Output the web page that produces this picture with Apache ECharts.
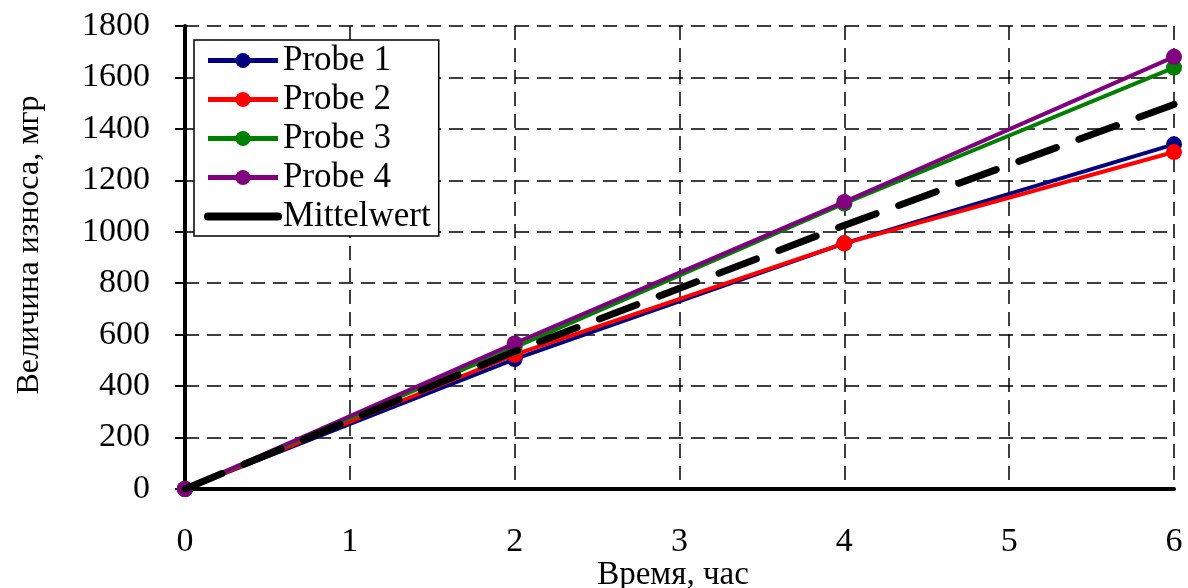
<!DOCTYPE html>
<html>
<head>
<meta charset="utf-8">
<script src="https://cdn.jsdelivr.net/npm/echarts@6/dist/echarts.min.js"></script>
<style>
  html, body { margin: 0; padding: 0; background: #fff; }
  #chart { width: 1188px; height: 588px; }
</style>
</head>
<body>
<div id="chart"></div>
<script>
// Wear amount over time for four samples and their mean
const hours = [0, 2, 4, 6];
const probe1 = [0, 505, 955, 1340];
const probe2 = [0, 522, 955, 1310];
const probe3 = [0, 550, 1110, 1638];
const probe4 = [0, 566, 1116, 1680];
const mittelwert = [0, 535, 1025, 1495];

const seriesNames = ['Probe 1', 'Probe 2', 'Probe 3', 'Probe 4', 'Mittelwert'];
const seriesColors = ['#000080', '#ff0000', '#008000', '#800080', '#000000'];
const seriesValues = [probe1, probe2, probe3, probe4, mittelwert];

const xTitle = 'Время, час';
const yTitle = 'Величина износа, мгр';

const FONT = '"Liberation Serif", "Times New Roman", serif';

const pairs = vals => hours.map((h, i) => [h, vals[i]]);

const series = seriesNames.map((name, i) => {
  const isMean = name === 'Mittelwert';
  return {
    name: name,
    type: 'line',
    data: pairs(seriesValues[i]),
    color: seriesColors[i],
    symbol: isMean ? 'none' : 'circle',
    symbolSize: 16,
    z: isMean ? 10 : 2 + i,
    lineStyle: {
      width: isMean ? 7 : 4,
      type: isMean ? [40, 24] : 'solid',
      cap: isMean ? 'round' : 'butt',
      color: seriesColors[i]
    },
    itemStyle: { color: seriesColors[i] },
    emphasis: { disabled: true },
    animation: false
  };
});

// legend entries: thick line with marker; the mean shows a plain thick line
const legendData = seriesNames.map((name, i) => {
  if (name === 'Mittelwert') {
    return {
      name: name,
      itemStyle: { opacity: 0 },
      lineStyle: { width: 8, type: 'solid', cap: 'round', color: '#000' }
    };
  }
  return { name: name, lineStyle: { width: 5, type: 'solid' } };
});

const chart = echarts.init(document.getElementById('chart'), null, { renderer: 'canvas' });
chart.setOption({
  backgroundColor: '#ffffff',
  animation: false,
  textStyle: { fontFamily: FONT, color: '#000' },
  grid: { left: 185, right: 14, top: 26, bottom: 99, containLabel: false },
  legend: {
    left: 194,
    top: 40,
    orient: 'vertical',
    padding: [3, 8, 2, 10],
    itemGap: 4,
    itemWidth: 70,
    itemHeight: 19,
    backgroundColor: '#ffffff',
    borderColor: '#000000',
    borderWidth: 1.5,
    data: legendData,
    textStyle: { fontFamily: FONT, fontSize: 35, color: '#000' }
  },
  xAxis: {
    type: 'value',
    min: 0,
    max: 6,
    interval: 1,
    axisLine: { show: true, onZero: false, lineStyle: { color: '#000', width: 4 } },
    axisTick: { show: false },
    axisLabel: { margin: 36, fontFamily: FONT, fontSize: 34, color: '#000' },
    splitLine: { show: true, lineStyle: { color: '#000', width: 1.5, type: [14, 8] } }
  },
  yAxis: {
    type: 'value',
    min: 0,
    max: 1800,
    interval: 200,
    axisLine: { show: true, lineStyle: { color: '#000', width: 4 } },
    axisTick: { show: true, inside: false, length: 10, lineStyle: { color: '#000', width: 2 } },
    axisLabel: {
      margin: 35,
      fontFamily: FONT,
      fontSize: 34,
      color: '#000',
      formatter: v => String(v)
    },
    splitLine: { show: true, lineStyle: { color: '#000', width: 1.5, type: [14, 8] } }
  },
  graphic: [
    {
      type: 'text',
      x: 673,
      y: 575,
      style: {
        text: xTitle,
        font: '33px ' + FONT,
        fill: '#000',
        textAlign: 'center',
        textVerticalAlign: 'middle'
      }
    },
    {
      type: 'text',
      x: 30,
      y: 245,
      rotation: Math.PI / 2,
      style: {
        text: yTitle,
        font: '32px ' + FONT,
        fill: '#000',
        textAlign: 'center',
        textVerticalAlign: 'middle'
      }
    }
  ],
  series: series
});
</script>
</body>
</html>
